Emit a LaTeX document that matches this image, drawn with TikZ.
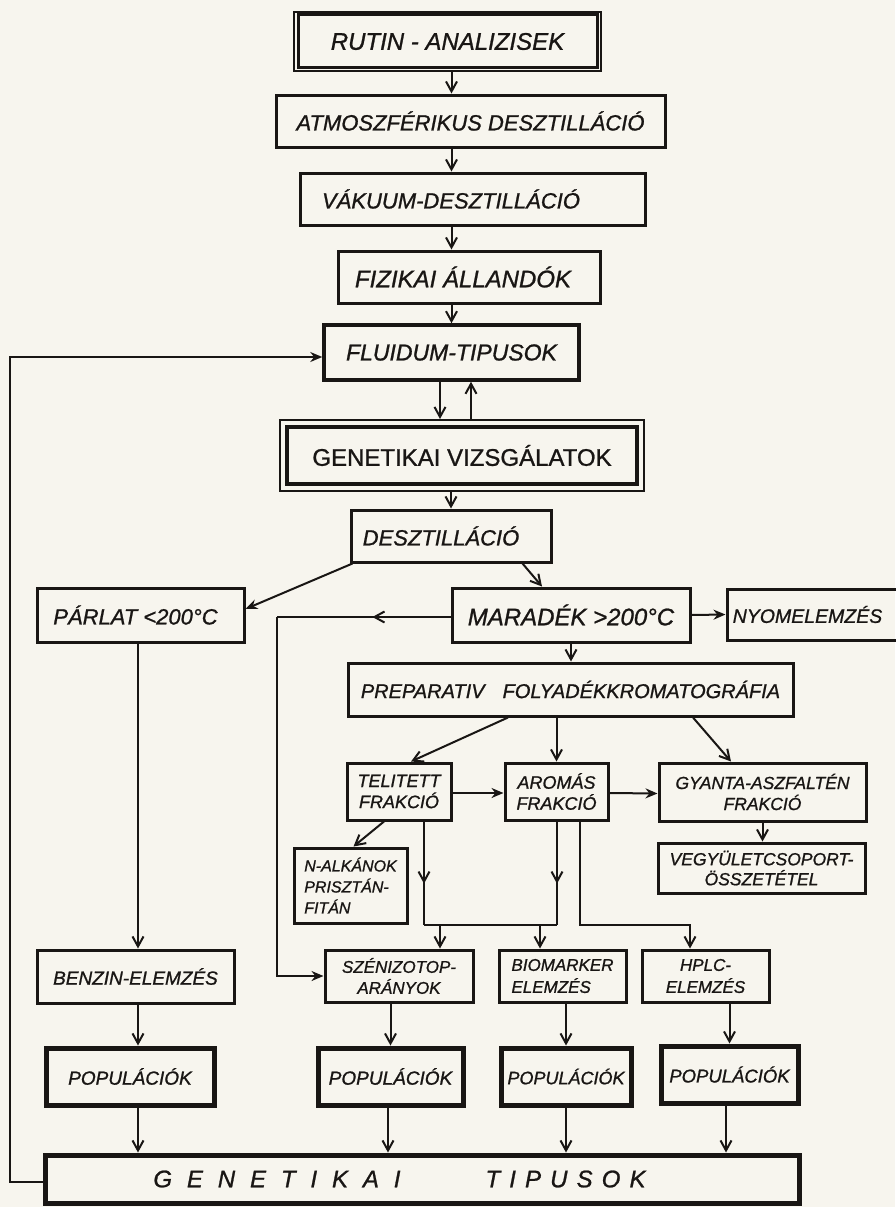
\documentclass[tikz,border=0pt]{standalone}
\usepackage{fontspec}
\setmainfont{Liberation Sans}[FakeBold=1]
\usetikzlibrary{arrows.meta,decorations.markings,calc}
\definecolor{paper}{RGB}{247,245,238}
\definecolor{ink}{RGB}{25,22,20}
\newcommand{\padr}[1]{\rule{#1}{0pt}}
\begin{document}
\begin{tikzpicture}[x=1pt,y=-1pt,
  box/.style={draw=ink, line width=3pt, inner sep=0pt, text=ink},
  thickbox/.style={box, line width=5pt},
  fs/.style 2 args={font=\itshape\fontsize{#1}{#2}\selectfont},
  fu/.style 2 args={font=\fontsize{#1}{#2}\selectfont},
  conn/.style={draw=ink, line width=2pt},
  arr/.style={conn, -{Straight Barb[length=10pt,width=11pt]}},
  arrF/.style={conn, -{Stealth[length=12pt,width=10pt]}},
  midarr/.style={conn, postaction={decorate}, decoration={markings, mark=at position #1 with {\arrow{Straight Barb[length=10pt,width=11pt]}}}},
  midarr/.default=0.6
]
\useasboundingbox (0,0) rectangle (895,1207);
\fill[paper] (0,0) rectangle (895,1207);

% top chain
\node[box, line width=2pt, minimum width=307, minimum height=59, fs={24}{28}] (rutin) at (447.5,41.5) {RUTIN - ANALIZISEK};
\draw[ink, line width=3pt] ([shift={(5,4)}]rutin.north west) rectangle ([shift={(-5,-4)}]rutin.south east);
\node[box, minimum width=389, minimum height=52, fs={22}{26}] (atm) at (470.5,121) {ATMOSZFÉRIKUS DESZTILLÁCIÓ};
\node[box, minimum width=345, minimum height=52, fs={22}{26}] (vak) at (472.5,199) {VÁKUUM-DESZTILLÁCIÓ\padr{43pt}};
\node[box, minimum width=262, minimum height=52, fs={24}{28}] (fiz) at (469,277) {FIZIKAI ÁLLANDÓK\padr{12pt}};
\node[box, line width=3.5pt, minimum width=255, minimum height=55, fs={23}{27}] (flu) at (451.5,352.5) {FLUIDUM-TIPUSOK};
\node[box, line width=2pt, minimum width=364, minimum height=71, fu={24}{28}] (gen) at (462,455.5) {GENETIKAI VIZSGÁLATOK};
\draw[ink, line width=4.5pt] ([shift={(8,8)}]gen.north west) rectangle ([shift={(-8,-8)}]gen.south east);
\node[box, minimum width=200, minimum height=52, fs={22}{26}] (des) at (451,536) {DESZTILLÁCIÓ\padr{20pt}};

% second level
\node[box, minimum width=207, minimum height=54, fs={22}{26}] (par) at (140.5,615) {PÁRLAT <200°C\padr{10pt}};
\node[box, minimum width=238, minimum height=54, fs={24}{28}] (mar) at (571,615) {MARADÉK >200°C};
\node[box, minimum width=193, minimum height=51, fs={19.5}{24}] (nyo) at (823.5,614.5) {NYOMELEMZÉS\padr{32pt}};
\node[box, minimum width=445, minimum height=53, fs={20}{24}] (pre) at (570.5,689.5) {PREPARATIV\hspace{18pt}FOLYADÉKKROMATOGRÁFIA};

% fractions
\node[box, minimum width=104, minimum height=57, fs={18}{21}, align=center] (tel) at (399,791.5) {TELITETT\\FRAKCIÓ};
\node[box, minimum width=103, minimum height=57, fs={18}{21}, align=center] (aro) at (556.5,791.5) {AROMÁS\\FRAKCIÓ};
\node[box, minimum width=207, minimum height=58, fs={17.5}{21}, align=center] (gya) at (762.5,792) {GYANTA-ASZFALTÉN\\FRAKCIÓ};
\node[box, minimum width=207, minimum height=50, fs={17.5}{20}, align=center] (veg) at (761.5,868) {VEGYÜLETCSOPORT-\\ÖSSZETÉTEL};
\node[box, minimum width=113, minimum height=75, fs={16}{21}, align=left] (nal) at (350.5,885.5) {N-ALKÁNOK\\PRISZTÁN-\\FITÁN};

% analyses
\node[box, minimum width=197, minimum height=53, fs={19}{23}] (ben) at (135.5,976.5) {BENZIN-ELEMZÉS};
\node[box, minimum width=148, minimum height=52, fs={17}{21}, align=center] (sze) at (399,976) {SZÉNIZOTOP-\\ARÁNYOK};
\node[box, minimum width=127, minimum height=52, fs={17}{22}, align=left] (bio) at (562.5,976) {BIOMARKER\\ELEMZÉS};
\node[box, minimum width=127, minimum height=52, fs={17}{22}, align=center] (hpl) at (705.5,976) {HPLC-\\ELEMZÉS};

% populations
\node[thickbox, minimum width=168, minimum height=57, fs={19}{23}] (pop1) at (130,1076.5) {POPULÁCIÓK};
\node[thickbox, minimum width=145, minimum height=57, fs={19}{23}] (pop2) at (390.5,1076.5) {POPULÁCIÓK};
\node[thickbox, minimum width=130, minimum height=57, fs={18}{23}] (pop3) at (566,1076.5) {POPULÁCIÓK};
\node[thickbox, minimum width=137, minimum height=57, fs={18.5}{23}] (pop4) at (729.5,1074.5) {POPULÁCIÓK};

\node[thickbox, minimum width=754, minimum height=48, fs={24}{28}] (gt) at (422,1179) {{\addfontfeature{LetterSpace=62}GENETIKAI}\hspace{85pt}{\addfontfeature{LetterSpace=38}TIPUSOK}\padr{45pt}};

% connectors top chain
\draw[arr] (flu.center |- rutin.south) -- (flu.center |- atm.north);
\draw[arr] (flu.center |- atm.south) -- (flu.center |- vak.north);
\draw[arr] (flu.center |- vak.south) -- (flu.center |- fiz.north);
\draw[arr] (flu.center |- fiz.south) -- (flu.north);
\draw[arr] ([xshift=-11.5pt]flu.south) -- ([xshift=-11.5pt]flu.south |- gen.north);
\draw[arr] ([xshift=19.5pt]flu.south |- gen.north) -- ([xshift=19.5pt]flu.south);
\draw[arr] (des.north |- gen.south) -- (des.north);

% distillation branches
\draw[arrF] ([xshift=3pt]des.south west) -- ([yshift=6pt]par.east);
\draw[arr] ([xshift=-30pt]des.south east) -- ([xshift=-29pt]mar.north);
\draw[arrF] (mar.east) -- (nyo.west);
\draw[arr] (mar.south) -- (mar.south |- pre.north);

% loop from MARADEK to SZENIZOTOP
\coordinate (mc) at (277,617);
\draw[conn] ([yshift=-2pt]mar.west) -- (mc);
\draw[arr] ([yshift=-2pt]mar.west) -- ($([yshift=-2pt]mar.west)!0.45!(mc)$);
\draw[arrF] (mc) |- (sze.west);

% PARLAT to BENZIN
\draw[arr] ([xshift=-2.5pt]par.south) -- ([xshift=-2.5pt]par.south |- ben.north);

% preparative branches
\draw[arr] ([xshift=-62.5pt]pre.south) -- ([xshift=12pt]tel.north);
\draw[arr] (aro.north |- pre.south) -- (aro.north);
\draw[arr] ([xshift=122.5pt]pre.south) -- ([xshift=-31.5pt]gya.north);
\draw[arrF] ([yshift=-1.5pt]tel.east) -- ([yshift=-1.5pt]aro.west);
\draw[arrF] ([yshift=-1.5pt]aro.east) -- ([yshift=-1.5pt]gya.west);
\draw[arr] (gya.south) -- (gya.south |- veg.north);
\draw[arr] ([xshift=-15pt]tel.south) -- ([xshift=3pt]nal.north);

% collector lines
\coordinate (j1) at (424,925);
\coordinate (j2) at (557,925);
\coordinate (j3) at (580,925);
\coordinate (j4) at (690,925);
\draw[midarr=0.6] ([xshift=25pt]tel.south) -- (j1);
\draw[midarr=0.6] ([xshift=0.5pt]aro.south) -- (j2);
\draw[conn] (j1) -- (j2);
\draw[arr] ([xshift=41pt]sze.north |- j1) -- ([xshift=41pt]sze.north);
\draw[arr] ([xshift=-22.5pt]bio.north |- j1) -- ([xshift=-22.5pt]bio.north);
\draw[arr] ([xshift=23.5pt]aro.south) -- (j3) -- (j4) -- ([xshift=-15.5pt]hpl.north);

% analyses to populations
\draw[arr] ([xshift=2.5pt]ben.south) -- ([xshift=2.5pt]ben.south |- pop1.north);
\draw[arr] (pop2.north |- sze.south) -- (pop2.north);
\draw[arr] (pop3.north |- bio.south) -- (pop3.north);
\draw[arr] (pop4.north |- hpl.south) -- (pop4.north);

% populations to genetic types
\draw[arr] ([xshift=8pt]pop1.south) -- ([xshift=8pt]pop1.south |- gt.north);
\draw[arr] ([xshift=-2.5pt]pop2.south) -- ([xshift=-2.5pt]pop2.south |- gt.north);
\draw[arr] (pop3.south) -- (pop3.south |- gt.north);
\draw[arr] ([xshift=-3.5pt]pop4.south) -- ([xshift=-3.5pt]pop4.south |- gt.north);

% feedback loop
\draw[arrF] ([yshift=-3pt]gt.west) -- ++(-33,0) |- ([yshift=-4.5pt]flu.west);
\end{tikzpicture}
\end{document}
